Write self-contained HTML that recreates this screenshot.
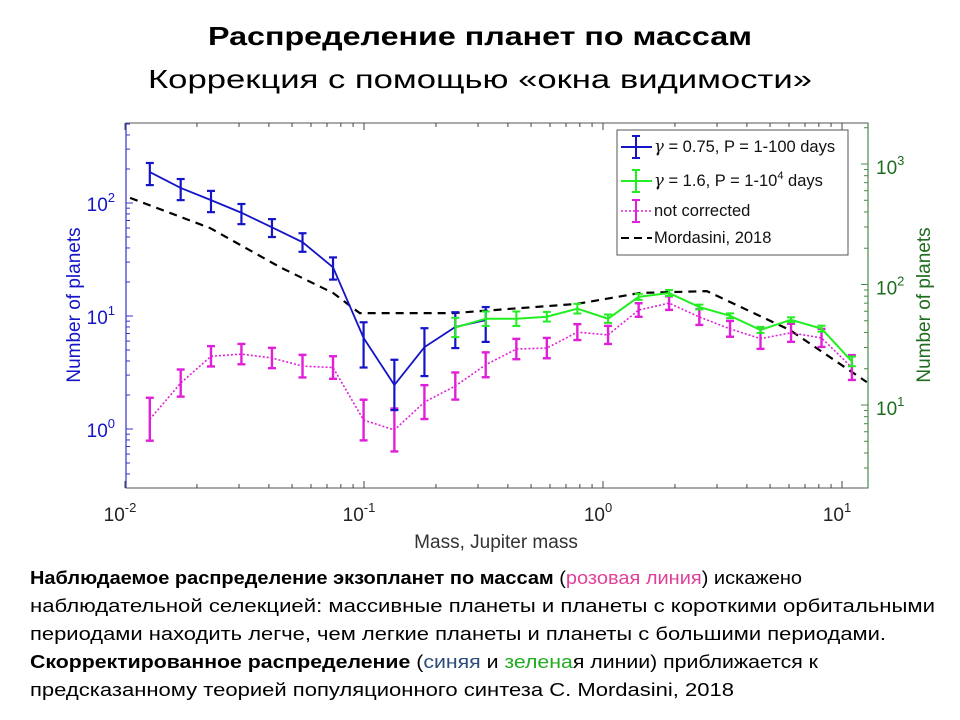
<!DOCTYPE html>
<html><head><meta charset="utf-8"><style>
body{margin:0;background:#fff;width:960px;height:720px;overflow:hidden;font-family:"Liberation Sans",sans-serif}
svg{display:block}
</style></head><body>
<svg id="root" width="960" height="720" xmlns="http://www.w3.org/2000/svg">
<text x="480" y="45" text-anchor="middle" font-size="26" font-weight="bold" textLength="544" lengthAdjust="spacingAndGlyphs">Распределение планет по массам</text>
<text x="480" y="88" text-anchor="middle" font-size="26" textLength="664" lengthAdjust="spacingAndGlyphs">Коррекция с помощью «окна видимости»</text>
<g id="chart"></g>
<g font-size="18">
<text x="30" y="584" textLength="772" lengthAdjust="spacingAndGlyphs"><tspan font-weight="bold">Наблюдаемое распределение экзопланет по массам</tspan> (<tspan fill="#e0409a">розовая линия</tspan>) искажено</text>
<text x="30" y="612" textLength="905" lengthAdjust="spacingAndGlyphs">наблюдательной селекцией: массивные планеты и планеты с короткими орбитальными</text>
<text x="30" y="640" textLength="856" lengthAdjust="spacingAndGlyphs">периодами находить легче, чем легкие планеты и планеты с большими периодами.</text>
<text x="30" y="668" textLength="788" lengthAdjust="spacingAndGlyphs"><tspan font-weight="bold">Скорректированное распределение</tspan> (<tspan fill="#2a4a7a">синяя</tspan> и <tspan fill="#22aa22">зелена</tspan>я линии) приближается к</text>
<text x="30" y="696" textLength="704" lengthAdjust="spacingAndGlyphs">предсказанному теорией популяционного синтеза С. Mordasini, 2018</text>
</g>
</svg>
<script>
const masses=[0.0127,0.0171,0.0229,0.0307,0.0412,0.0553,0.0742,0.0996,0.134,0.179,0.241,0.323,0.434,0.582,0.781,1.05,1.41,1.89,2.53,3.40,4.56,6.12,8.21,11.0];
const blueVals=[188,136,106,82,61,45,27,6.4,2.45,5.3,8.0,9.2];
const blueLo=[144,106,83,65,50,37,21,3.5,1.47,2.94,5.2,5.9];
const blueHi=[226,163,128,98,72,54,33,8.8,4.1,7.8,10.8,12.0];
const pinkVals=[1.22,2.55,4.4,4.6,4.25,3.6,3.5,1.2,0.98,1.73,2.4,3.7,5.1,5.2,7.2,6.8,11.3,13.0,9.8,7.7,6.3,7.1,6.4,3.5];
const pinkErrDec=[0.19,0.12,0.09,0.09,0.09,0.1,0.1,0.18,0.19,0.15,0.12,0.11,0.09,0.09,0.07,0.08,0.06,0.06,0.07,0.07,0.09,0.08,0.08,0.11];
const greenVals=[44,52,52,54,63,52,79,85,65,55,42,51,43,23];
const greenErrDec=[0.08,0.06,0.06,0.04,0.04,0.035,0.025,0.025,0.02,0.02,0.025,0.02,0.025,0.04];
const greenStart=10;
const mordMass=[0.0105,0.0227,0.0446,0.0742,0.096,0.235,0.778,1.43,2.72,6.06,12.7];
const mordVals=[111,60,27,16,10.6,10.6,12.8,16,16.6,7.5,2.6];
const xTicks=[-2,-1,0,1];
const yLTicks=[0,1,2];
const yRTicks=[1,2,3];

const L=126,R=868,T=123,B=488;
const X=m=>125+239*(Math.log10(m)+2);
const YL=v=>429-113*Math.log10(v);
const YR=v=>405-120.5*(Math.log10(v)-1);
const NS="http://www.w3.org/2000/svg";
const g=document.getElementById('chart');
function mk(tag,at,parent){const e=document.createElementNS(NS,tag);for(const k in at)e.setAttribute(k,at[k]);(parent||g).appendChild(e);return e;}
const BLUE="#1515c8",GREEN="#22ee22",PINK="#e020d8";
let e=mk('rect',{x:L,y:T,width:R-L,height:B-T,fill:'none',stroke:'#555','stroke-width':1});

e=mk('line',{x1:L,y1:T,x2:L,y2:B,stroke:'#3333cc','stroke-width':1.2});

e=mk('line',{x1:R,y1:T,x2:R,y2:B,stroke:'#4a8a4a','stroke-width':1.2});

for(let d=-2;d<=1;d++){for(let k=1;k<10;k++){const x=X(k*Math.pow(10,d));if(x>R)continue;const len=k==1?7:4;
 mk('line',{x1:x,y1:B,x2:x,y2:B-len,stroke:'#444'});mk('line',{x1:x,y1:T,x2:x,y2:T+len,stroke:'#444'});}}
xTicks.forEach(t=>{const tx=mk('text',{x:X(Math.pow(10,t))-5,y:521,'text-anchor':'middle','font-size':19,fill:'#222'});
 
 tx.innerHTML='10<tspan dy="-9" font-size="13">'+t+'</tspan>';});
for(let d=-1;d<=2;d++){for(let k=1;k<10;k++){const y=YL(k*Math.pow(10,d));if(y<T||y>B)continue;mk('line',{x1:L,y1:y,x2:L+(k==1?7:4),y2:y,stroke:'#3333cc'});}}
yLTicks.forEach(t=>{const tx=mk('text',{x:115,y:YL(Math.pow(10,t))+8,'text-anchor':'end','font-size':19,fill:BLUE});
 
 tx.innerHTML='10<tspan dy="-9" font-size="13">'+t+'</tspan>';});
for(let d=0;d<=3;d++){for(let k=1;k<10;k++){const y=YR(k*Math.pow(10,d));if(y<T||y>B)continue;mk('line',{x1:R,y1:y,x2:R-(k==1?7:4),y2:y,stroke:'#4a8a4a'});}}
yRTicks.forEach(t=>{const tx=mk('text',{x:876,y:YR(Math.pow(10,t))+10,'font-size':19,fill:'#1f6b1f'});
 
 tx.innerHTML='10<tspan dy="-9" font-size="13">'+t+'</tspan>';});
e=mk('text',{x:0,y:0,transform:'translate(80,305) rotate(-90)','text-anchor':'middle','font-size':19,fill:BLUE});e.textContent='Number of planets';

e=mk('text',{x:0,y:0,transform:'translate(930,305) rotate(-90)','text-anchor':'middle','font-size':19,fill:'#1f6b1f'});e.textContent='Number of planets';

e=mk('text',{x:496,y:548,'text-anchor':'middle','font-size':19,fill:'#333'});e.textContent='Mass, Jupiter mass';

const cp=mk('clipPath',{id:'clip'});mk('rect',{x:L,y:T,width:R-L,height:B-T},cp);
const pg=mk('g',{'clip-path':'url(#clip)'});
function eb(x,y1,y2,col,w,name){const gg=mk('g',{},pg);
 
 mk('line',{x1:x,y1:y1,x2:x,y2:y2,stroke:col,'stroke-width':w},gg);
 mk('line',{x1:x-4,y1:y1,x2:x+4,y2:y1,stroke:col,'stroke-width':w},gg);
 mk('line',{x1:x-4,y1:y2,x2:x+4,y2:y2,stroke:col,'stroke-width':w},gg);}
e=mk('polyline',{points:mordMass.map((m,i)=>X(m)+','+YL(mordVals[i])).join(' '),fill:'none',stroke:'#000','stroke-width':2.2,'stroke-dasharray':'8,6'},pg);

e=mk('polyline',{points:pinkVals.map((v,i)=>X(masses[i])+','+YL(v)).join(' '),fill:'none',stroke:PINK,'stroke-width':1.6,'stroke-dasharray':'2,2'},pg);

pinkVals.forEach((v,i)=>{const y=YL(v),d=113*pinkErrDec[i];eb(X(masses[i]),y-d,y+d,PINK,2.4,'not-corrected-errorbar');});
e=mk('polyline',{points:blueVals.map((v,i)=>X(masses[i])+','+YL(v)).join(' '),fill:'none',stroke:BLUE,'stroke-width':1.8},pg);

blueVals.forEach((v,i)=>eb(X(masses[i]),YL(blueHi[i]),YL(blueLo[i]),BLUE,2.2,'gamma-075-errorbar'));
e=mk('polyline',{points:greenVals.map((v,i)=>X(masses[i+greenStart])+','+YR(v)).join(' '),fill:'none',stroke:GREEN,'stroke-width':2},pg);

greenVals.forEach((v,i)=>{const y=YR(v),d=120.5*greenErrDec[i];eb(X(masses[i+greenStart]),y-d,y+d,GREEN,2,'gamma-16-errorbar');});
const lg=mk('g',{});
mk('rect',{x:617,y:130,width:231,height:125,fill:'#fff',stroke:'#555'},lg);
const items=[[BLUE,'',147,'<tspan font-family="DejaVu Serif" font-style="italic">γ</tspan> = 0.75, P = 1-100 days',2,'legend-entry-blue'],
[GREEN,'',181,'<tspan font-family="DejaVu Serif" font-style="italic">γ</tspan> = 1.6, P = 1-10<tspan dy="-7" font-size="11">4</tspan><tspan dy="7"> days</tspan>',2,'legend-entry-green'],
[PINK,'2,2',211,'not corrected',1.6,'legend-entry-pink'],
['#000','8,5',238,'Mordasini, 2018',2,'legend-entry-mordasini']];
items.forEach(([c,da,y,t,w,n],i)=>{const ig=mk('g',{},lg);
 
 mk('line',{x1:621,y1:y,x2:652,y2:y,stroke:c,'stroke-width':w,'stroke-dasharray':da||'none'},ig);
 if(i<3){mk('line',{x1:636,y1:y-11,x2:636,y2:y+11,stroke:c,'stroke-width':2},ig);mk('line',{x1:632,y1:y-11,x2:640,y2:y-11,stroke:c,'stroke-width':2},ig);mk('line',{x1:632,y1:y+11,x2:640,y2:y+11,stroke:c,'stroke-width':2},ig);}
 const tx=mk('text',{x:654,y:y+5,'font-size':16.5,fill:'#111'},ig);tx.innerHTML=t;});
</script>
</body></html>
